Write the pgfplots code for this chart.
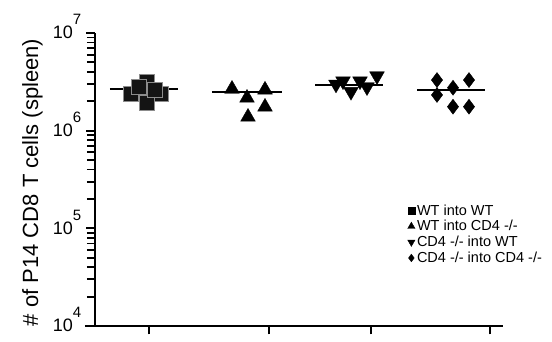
\documentclass[border=0pt]{standalone}
\usepackage{fontspec}
\setmainfont{Liberation Sans}
\usepackage{pgfplots}
\pgfplotsset{compat=1.18}
\newcommand{\tl}[1]{10\raisebox{14pt}{\fontsize{15}{15}\selectfont #1}}
\begin{document}
\begin{tikzpicture}
\begin{axis}[
 at={(0pt,0pt)}, anchor=south west,
 width=408pt, height=293pt, scale only axis,
 xmin=95, xmax=503, ymode=log, ymin=1e4, ymax=1e7,
 axis y line=left, axis x line=none,
 axis line style={-, line width=2pt, black},
 ytick={1e4,2e4,3e4,4e4,5e4,6e4,7e4,8e4,9e4,1e5,2e5,3e5,4e5,5e5,6e5,7e5,8e5,9e5,1e6,2e6,3e6,4e6,5e6,6e6,7e6,8e6,9e6,1e7},
 yticklabels={},
 tick align=outside, major tick length=8pt,
 ytick style={black, line width=1.9pt},
]
\addplot[draw=none, forget plot] coordinates {(100,1e5)};
\end{axis}
\begin{axis}[
 at={(0pt,0pt)}, anchor=south west,
 width=408pt, height=293pt, scale only axis,
 xmin=95, xmax=503, ymode=log, ymin=1e4, ymax=1e7,
 axis lines=left, axis line style={-, line width=2pt, black},
 x axis line style={shorten <=-10pt},
 xtick={149,269,371,490}, xticklabels={},
 ytick={1e4,1e5,1e6,1e7},
 yticklabels={\tl{4},\tl{5},\tl{6},\tl{7}},
 yticklabel style={font=\fontsize{18}{18}\selectfont, anchor=base east, inner sep=0pt, yshift=-6pt, xshift=-5pt},
 tick align=outside, major tick length=8.5pt,
 xtick style={black, line width=1.9pt},
 ytick style={black, line width=1.9pt},
 clip=false,
 ylabel={\# of P14 CD8 T cells (spleen)},
 ylabel style={font=\fontsize{22}{24}\selectfont, at={(axis description cs:-0.1397,0.49)}, anchor=base},
 legend style={at={(axis description cs:0.766,0.422)}, anchor=north west, draw=none, fill=none,
   font=\fontsize{14.5}{16}\selectfont, row sep=-0.2pt, cells={anchor=west}, inner sep=0pt,
   nodes={inner sep=2pt}},
 legend image code/.code={\draw[#1] plot coordinates {(3.5pt,0pt)};},
]
% mean lines
\addplot[black, line width=2pt, forget plot] coordinates {(110,2.67e6) (178,2.67e6)};
\addplot[black, line width=2pt, forget plot] coordinates {(212,2.49e6) (282,2.49e6)};
\addplot[black, line width=2pt, forget plot] coordinates {(315,2.94e6) (383,2.94e6)};
\addplot[black, line width=2pt, forget plot] coordinates {(417,2.61e6) (485,2.61e6)};
% WT into WT
\addplot[only marks, mark=square*, mark size=7.5pt, mark options={fill=black!92, draw=black!45, line width=0.6pt}, forget plot]
 coordinates {(147,3.17e6) (131,2.37e6) (161,2.37e6) (147,1.95e6) (139,2.82e6) (155,2.61e6)};
% WT into CD4-/-
\addplot[only marks, mark=triangle*, mark size=8.5pt, mark options={fill=black, draw=black}, forget plot]
 coordinates {(232,2.67e6) (247,2.16e6) (265,2.62e6) (265,1.75e6) (248,1.38e6)};
% CD4-/- into WT
\addplot[only marks, mark=triangle*, mark size=8.5pt, mark options={rotate=180, fill=black, draw=black}, forget plot]
 coordinates {(336,2.98e6) (343,3.22e6) (351,2.51e6) (360,3.22e6) (367,2.80e6) (377,3.63e6)};
% CD4-/- into CD4-/-
\addplot[only marks, mark=diamond*, mark size=7.5pt, mark options={fill=black, draw=black}, forget plot]
 coordinates {(437,3.30e6) (437,2.32e6) (453,2.75e6) (469,3.30e6) (453,1.76e6) (469,1.76e6)};
\addlegendimage{only marks, mark=square*, mark size=3.4pt, black}
\addlegendentry{WT into WT}
\addlegendimage{only marks, mark=triangle*, mark size=4.2pt, black}
\addlegendentry{WT into CD4 -/-}
\addlegendimage{only marks, mark=triangle*, mark size=4.2pt, black, mark options={rotate=180}}
\addlegendentry{CD4 -/- into WT}
\addlegendimage{only marks, mark=diamond*, mark size=3.8pt, black}
\addlegendentry{CD4 -/- into CD4 -/-}
\end{axis}
\pgfresetboundingbox
\path[use as bounding box] (-95pt,-16pt) rectangle (457pt,326pt);
\end{tikzpicture}
\end{document}
